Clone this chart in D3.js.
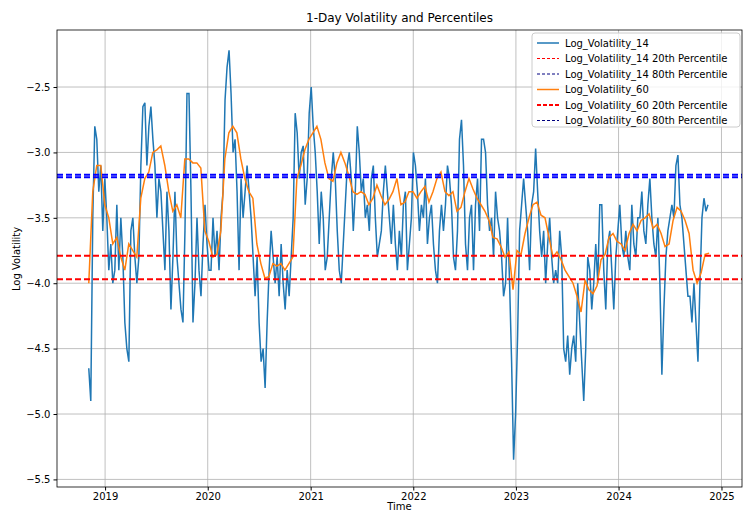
<!DOCTYPE html>
<html><head><meta charset="utf-8">
<script src="https://cdn.jsdelivr.net/npm/d3@7"></script>
<style>body{margin:0;background:#fff}text{font-family:"DejaVu Sans",sans-serif}</style>
</head><body><svg id="c" width="750" height="523"></svg>
<script>
const vol14Start = "2018-11-04", vol14End = "2024-11-14";
const vol14 = [-4.65,-4.9,-3.5,-2.8,-2.9,-3.3,-3.1,-3.6,-3.2,-3.5,-3.9,-3.7,-4.0,-3.9,-3.4,-3.9,-3.5,-3.8,-4.3,-4.5,-4.6,-3.6,-3.5,-3.8,-4.0,-3.8,-3.1,-2.65,-2.62,-3.1,-2.8,-2.65,-2.9,-3.1,-3.5,-3.2,-3.3,-3.6,-3.9,-3.3,-3.6,-4.2,-3.8,-3.3,-3.8,-4.0,-4.2,-4.3,-3.6,-2.55,-2.55,-3.3,-4.3,-4.0,-3.5,-3.9,-4.1,-3.7,-3.4,-3.7,-3.9,-3.9,-3.5,-3.8,-3.6,-3.9,-3.5,-3.3,-2.6,-2.35,-2.22,-2.55,-3.0,-2.9,-3.3,-3.9,-3.2,-3.5,-3.3,-3.1,-3.3,-3.5,-3.8,-4.1,-3.8,-4.3,-4.6,-4.5,-4.8,-4.3,-3.9,-3.6,-3.8,-4.0,-3.8,-4.1,-3.7,-4.0,-4.2,-3.9,-4.1,-3.8,-3.5,-2.7,-2.85,-3.2,-3.0,-2.95,-3.4,-3.2,-2.7,-2.5,-2.8,-3.0,-3.3,-3.7,-3.3,-3.5,-3.9,-3.8,-3.5,-3.2,-3.0,-3.2,-3.6,-3.9,-4.0,-3.7,-3.4,-3.1,-3.0,-3.2,-3.6,-3.3,-2.8,-3.0,-3.3,-3.2,-3.5,-3.4,-3.6,-3.2,-3.1,-3.5,-3.8,-3.7,-3.6,-3.3,-3.1,-3.3,-3.5,-3.7,-3.4,-3.7,-3.9,-3.6,-3.8,-3.4,-3.3,-3.9,-3.7,-3.5,-3.0,-3.1,-3.3,-3.6,-3.4,-3.5,-3.2,-3.7,-3.5,-3.4,-3.7,-3.9,-4.0,-3.6,-3.4,-3.6,-3.4,-3.1,-3.2,-3.4,-3.8,-3.9,-3.6,-2.9,-2.75,-3.1,-3.7,-3.9,-3.5,-3.4,-3.9,-3.4,-3.2,-3.6,-2.9,-2.9,-3.0,-3.4,-3.6,-3.5,-3.8,-3.3,-3.5,-3.6,-3.8,-4.1,-4.0,-3.5,-4.0,-4.6,-5.35,-5.0,-4.4,-3.6,-3.4,-3.2,-3.4,-3.6,-3.9,-3.4,-3.3,-2.97,-3.3,-3.6,-3.8,-3.6,-4.0,-3.7,-3.5,-3.8,-4.0,-3.9,-4.0,-3.6,-3.8,-4.5,-4.6,-4.4,-4.7,-4.5,-4.4,-4.6,-4.0,-4.3,-4.6,-4.9,-4.5,-3.8,-3.9,-4.2,-4.0,-3.7,-4.0,-3.4,-3.4,-3.9,-4.2,-3.7,-3.6,-3.9,-4.2,-3.8,-3.6,-3.4,-3.7,-3.8,-3.6,-3.8,-3.9,-3.4,-3.7,-3.8,-3.5,-3.5,-3.3,-3.6,-3.7,-3.4,-3.2,-3.5,-3.7,-3.8,-3.5,-4.0,-4.7,-4.2,-3.8,-3.6,-3.5,-3.4,-3.5,-3.1,-3.02,-3.4,-3.5,-3.7,-3.9,-4.1,-4.1,-4.3,-4.0,-4.3,-4.6,-4.0,-3.5,-3.35,-3.45,-3.4];
const vol60Start = "2018-11-04", vol60End = "2024-11-18";
const vol60 = [-4.0,-3.3,-3.1,-3.1,-3.4,-3.5,-3.7,-3.65,-3.8,-3.9,-3.7,-3.75,-3.8,-3.35,-3.2,-3.15,-3.0,-2.98,-2.95,-3.1,-3.3,-3.45,-3.4,-3.5,-3.05,-3.05,-3.08,-3.08,-3.12,-3.6,-3.68,-3.8,-3.78,-3.6,-3.05,-2.85,-2.8,-2.85,-3.05,-3.2,-3.3,-3.35,-3.7,-3.85,-3.96,-3.95,-3.85,-3.87,-3.85,-3.9,-3.85,-3.8,-3.2,-3.1,-2.98,-2.9,-2.85,-2.8,-2.9,-3.08,-3.2,-3.22,-3.08,-3.0,-3.08,-3.18,-3.3,-3.32,-3.3,-3.32,-3.4,-3.35,-3.25,-3.33,-3.4,-3.36,-3.3,-3.2,-3.4,-3.38,-3.3,-3.3,-3.35,-3.3,-3.26,-3.38,-3.3,-3.2,-3.15,-3.3,-3.33,-3.3,-3.45,-3.42,-3.3,-3.2,-3.28,-3.35,-3.4,-3.45,-3.52,-3.65,-3.66,-3.72,-3.8,-3.76,-4.05,-3.75,-3.78,-3.62,-3.5,-3.4,-3.38,-3.48,-3.5,-3.65,-3.8,-3.76,-3.82,-3.9,-3.95,-4.0,-4.1,-4.22,-3.98,-4.05,-4.08,-4.02,-3.82,-3.78,-3.65,-3.62,-3.68,-3.7,-3.75,-3.62,-3.55,-3.6,-3.52,-3.5,-3.47,-3.58,-3.55,-3.62,-3.72,-3.7,-3.52,-3.42,-3.45,-3.52,-3.62,-3.9,-4.0,-3.92,-3.78,-3.77];
const pct14 = [-3.97, -3.17];
const pct60 = [-3.79, -3.19];
const yTicks = [-5.5,-5.0,-4.5,-4.0,-3.5,-3.0,-2.5];
const xTickYears = [2019,2020,2021,2022,2023,2024,2025];
const legendLabels = ["Log_Volatility_14","Log_Volatility_14 20th Percentile","Log_Volatility_14 80th Percentile","Log_Volatility_60","Log_Volatility_60 20th Percentile","Log_Volatility_60 80th Percentile"];

const svg = d3.select("#c");
const L=57,R=742,T=30,B=487;
const x = d3.scaleTime().domain([new Date(2018,6,14), new Date(2025,2,15)]).range([L,R]);
const y = d3.scaleLinear().domain([-5.558,-2.064]).range([B,T]);
function dates(s,e,n){const a=new Date(s).getTime(),b=new Date(e).getTime();return d3.range(n).map(i=>new Date(a+(b-a)*i/(n-1)));}
const d14 = dates(vol14Start,vol14End,vol14.length).map((d,i)=>[d,vol14[i]]);
const d60 = dates(vol60Start,vol60End,vol60.length).map((d,i)=>[d,vol60[i]]);
const xt = xTickYears.map(v=>new Date(v,0,1));
svg.append("g").selectAll("line").data(xt).join("line").attr("x1",d=>x(d)).attr("x2",d=>x(d)).attr("y1",T).attr("y2",B).attr("stroke","#b0b0b0").attr("stroke-width",0.8);
svg.append("g").selectAll("line").data(yTicks).join("line").attr("x1",L).attr("x2",R).attr("y1",d=>y(d)).attr("y2",d=>y(d)).attr("stroke","#b0b0b0").attr("stroke-width",0.8);
svg.append("clipPath").attr("id","cl").append("rect").attr("x",L).attr("y",T).attr("width",R-L).attr("height",B-T);
const g = svg.append("g").attr("clip-path","url(#cl)");
const line = d3.line().x(d=>x(d[0])).y(d=>y(d[1]));
g.append("path").datum(d14).attr("d",line).attr("fill","none").attr("stroke","#1f77b4").attr("stroke-width",1.5);
g.append("path").datum(d60).attr("d",line).attr("fill","none").attr("stroke","#ff7f0e").attr("stroke-width",1.5);
const hl=(v,c,w,da)=>g.append("line").attr("x1",L).attr("x2",R).attr("y1",y(v)).attr("y2",y(v)).attr("stroke",c).attr("stroke-width",w).attr("stroke-dasharray",da);
hl(pct14[0],"red",2,"6,3"); hl(pct14[1],"blue",2,"6,3");
hl(pct60[0],"red",2,"6,3"); hl(pct60[1],"blue",2,"6,3");
const xa = svg.append("g").attr("transform",`translate(0,${B})`).call(d3.axisBottom(x).tickValues(xt).tickFormat(d3.timeFormat("%Y")).tickSize(3.5).tickPadding(2));
const ya = svg.append("g").attr("transform",`translate(${L},0)`).call(d3.axisLeft(y).tickValues(yTicks).tickFormat(d=>d3.format(".1f")(d).replace("-","−")).tickSize(3.5));
[xa,ya].forEach(a=>{a.select(".domain").remove();a.selectAll("text").attr("font-size",10).attr("fill","#000");});
svg.append("rect").attr("x",L).attr("y",T).attr("width",R-L).attr("height",B-T).attr("fill","none").attr("stroke","#000").attr("stroke-width",0.8);
svg.append("text").attr("x",(L+R)/2).attr("y",22).attr("text-anchor","middle").attr("font-size",12).text("1-Day Volatility and Percentiles");
svg.append("text").attr("x",(L+R)/2).attr("y",510).attr("text-anchor","middle").attr("font-size",10).text("Time");
svg.append("text").attr("transform","translate(20,259) rotate(-90)").attr("text-anchor","middle").attr("font-size",10).text("Log Volatility");
const lg = svg.append("g").attr("transform","translate(532,33)");
lg.append("rect").attr("width",208).attr("height",94).attr("rx",3).attr("fill","#fff").attr("fill-opacity",0.8).attr("stroke","#ccc");
const sty=[["#1f77b4",1.5,null],["red",1,"3,2"],["#000080",1,"3,2"],["#ff7f0e",1.5,null],["red",2,"4,2"],["#000080",1,"3,2"]];
legendLabels.forEach((t,i)=>{const yy=10+i*15.5;
 lg.append("line").attr("x1",5).attr("x2",27).attr("y1",yy).attr("y2",yy).attr("stroke",sty[i][0]).attr("stroke-width",sty[i][1]).attr("stroke-dasharray",sty[i][2]);
 lg.append("text").attr("x",33).attr("y",yy+3.5).attr("font-size",10).text(t);});
</script></body></html>
